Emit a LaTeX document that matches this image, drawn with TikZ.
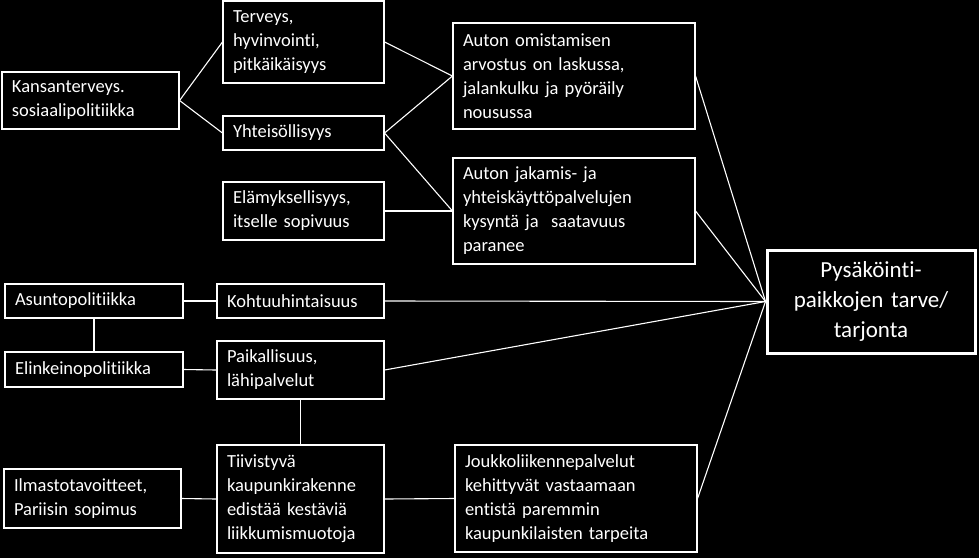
\documentclass[tikz,border=0pt]{standalone}
\usepackage{fontspec}
\setmainfont{Carlito}[Ligatures=NoCommon]
\tikzset{
  box/.style={draw=white, fill=black, text=white, line width=1.1pt, align=left,
    inner xsep=10pt, inner ysep=0pt, font=\fontsize{18.5}{24}\selectfont},
  goal/.style={draw=white, fill=black, text=white, line width=3pt, align=center,
    inner xsep=6pt, inner ysep=0pt, font=\fontsize{23}{30}\selectfont},
  conn/.style={draw=white, line width=1.1pt}
}
\newcommand{\bx}[7]{% name, cx, cy, w, h, text width, text
  \node[box, minimum width=#4pt, minimum height=#5pt, text width=#6pt] (#1) at (#2,#3) {#7};}
\begin{document}
\begin{tikzpicture}[x=1pt,y=-1pt]
\fill[black] (0,0) rectangle (979,558);
\useasboundingbox (0,0) rectangle (979,558);
\bx{kans}{90.5}{100.5}{177}{57}{157}{Kansanterveys.\\sosiaalipolitiikka}
\bx{terv}{303.5}{42}{161}{82}{141}{Terveys,\\hyvinvointi,\\pitkäikäisyys}
\bx{yht}{303.5}{133}{161}{34}{141}{Yhteisöllisyys}
\bx{elam}{303.5}{211}{161}{58}{141}{Elämyksellisyys,\\itselle sopivuus}
\bx{omis}{574}{76}{242}{106}{222}{Auton omistamisen\\arvostus on laskussa,\\jalankulku ja pyöräily\\nousussa}
\bx{jak}{574}{211}{242}{106}{222}{Auton jakamis- ja\\yhteiskäyttöpalvelujen\\kysyntä ja \ saatavuus\\paranee}
\bx{asun}{94}{301}{178}{34}{158}{Asuntopolitiikka}
\bx{kohtuu}{300.5}{301}{167}{34}{147}{Kohtuuhintaisuus}
\bx{elink}{94}{369.5}{178}{35}{158}{Elinkeinopolitiikka}
\bx{paik}{300.5}{370}{167}{58}{147}{Paikallisuus,\\lähipalvelut}
\bx{tiiv}{300.5}{499}{167}{108}{147}{Tiivistyvä\\kaupunkirakenne\\edistää kestäviä\\liikkumismuotoja}
\bx{ilma}{92.5}{498.5}{177}{59}{157}{Ilmastotavoitteet,\\Pariisin sopimus}
\bx{jouk}{576}{498.5}{242}{107}{222}{Joukkoliikennepalvelut\\kehittyvät vastaamaan\\entistä paremmin\\kaupunkilaisten tarpeita}
\node[goal, minimum width=208pt, minimum height=103pt, text width=196pt] (goal) at (871,301.5) {Pysäköinti-\\paikkojen tarve/\\tarjonta};
\draw[conn] (kans.east) -- (terv.west);
\draw[conn] (kans.east) -- (yht.west);
\draw[conn] (terv.east) -- (omis.west);
\draw[conn] (yht.east) -- (omis.west);
\draw[conn] (yht.east) -- (jak.west);
\draw[conn] (elam.east) -- (jak.west);
\draw[conn] (omis.east) -- (goal.west);
\draw[conn] (jak.east) -- (goal.west);
\draw[conn] (kohtuu.east) -- (goal.west);
\draw[conn] (paik.east) -- (goal.west);
\draw[conn] (jouk.east) -- (goal.west);
\draw[conn] (asun.east) -- (kohtuu.west);
\draw[conn] (asun.south) -- (elink.north);
\draw[conn] (elink.east) -- (paik.west);
\draw[conn] (paik.south) -- (tiiv.north);
\draw[conn] (ilma.east) -- (tiiv.west);
\draw[conn] (tiiv.east) -- (jouk.west);
\end{tikzpicture}
\end{document}
